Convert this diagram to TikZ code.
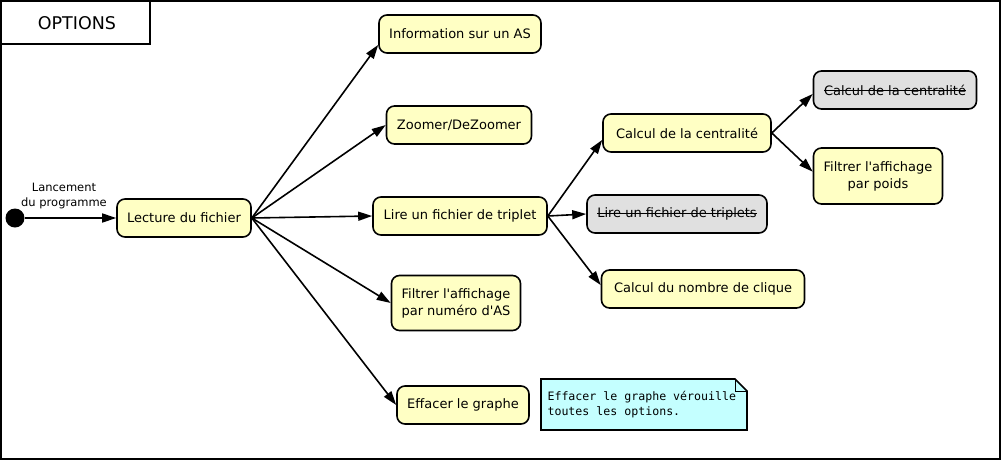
\documentclass[tikz,border=0pt]{standalone}
\usepackage{fontspec}
\setmainfont[Ligatures=TeXOff]{DejaVu Sans}
\newfontfamily\notefont{DejaVu Sans Mono}
\usetikzlibrary{arrows.meta,calc}
\newcommand\mystrike[1]{\setbox0\hbox{#1}\rlap{\rule[0.32em]{\wd0}{0.9pt}}\box0}
\definecolor{boxyellow}{HTML}{FFFFC4}
\definecolor{boxgray}{HTML}{E0E0E0}
\definecolor{notecyan}{HTML}{C4FFFF}
\tikzset{
  act/.style={draw=black, line width=1.6pt, rounded corners=8pt, fill=boxyellow,
    font=\fontsize{13}{17}\selectfont, align=center, minimum height=38pt, inner sep=2pt},
  actgray/.style={act, fill=boxgray},
  flow/.style={-{Triangle[length=14pt,width=9pt]}, line width=1.6pt},
}
\begin{document}
\begin{tikzpicture}[x=1pt,y=-1pt]
\useasboundingbox (0,0) rectangle (1003,461);
% frame
\draw[line width=1.8pt] (1,1) rectangle (1000,459);
\draw[line width=1.8pt, fill=white] (1,1) rectangle (150,44);
\node (title) at (77,23) {\fontsize{17.5}{20}\selectfont OPTIONS};
% initial
\node[circle, fill=black, minimum size=19pt, inner sep=0pt] (start) at (15,218) {};
\node[font=\fontsize{11.5}{15}\selectfont, align=center] (lbl) at (64,196) {Lancement\\du programme};
% nodes
\node[act, minimum width=134pt] (lec) at (184,218) {Lecture du fichier};
\node[act, minimum width=162pt] (info) at (460,34) {Information sur un AS};
\node[act, minimum width=145pt] (zoom) at (459,125) {Zoomer/DeZoomer};
\node[act, minimum width=174pt] (lire) at (460,216) {Lire un fichier de triplet};
\node[act, minimum width=129pt, minimum height=55pt] (filt) at (456,303) {Filtrer l'affichage\\par numéro d'AS};
\node[act, minimum width=132pt] (eff) at (463,405) {Effacer le graphe};
\node[act, minimum width=168pt] (cent) at (687,133) {Calcul de la centralité};
\node[actgray, minimum width=180pt] (lire2) at (677,214) {\mystrike{Lire un fichier de triplets}};
\node[act, minimum width=203pt] (cliq) at (703,289) {Calcul du nombre de clique};
\node[actgray, minimum width=163pt] (cent2) at (895,90) {\mystrike{Calcul de la centralité}};
\node[act, minimum width=129pt, minimum height=56pt] (poids) at (878,176) {Filtrer l'affichage\\par poids};
% note
\draw[line width=1.6pt, fill=notecyan] (541,379) -- (735,379) -- (747,391) -- (747,430) -- (541,430) -- cycle;
\draw[line width=0.8pt] (735,379) -- (735,391) -- (747,391);
\node[font=\notefont\fontsize{11.6}{15}\selectfont, align=left, anchor=west] (note) at (544,405) {Effacer le graphe vérouille\\toutes les options.};
% arrows
\draw[flow] (start) -- (lec.west);
\draw[flow] (lec.east) -- ($(info.west)!0.55!(info.south west)$);
\draw[flow] (lec.east) -- (zoom.west);
\draw[flow] (lec.east) -- (lire.west);
\draw[flow] (lec.east) -- (filt.west);
\draw[flow] (lec.east) -- (eff.west);
\draw[flow] (lire.east) -- ($(cent.west)!0.35!(cent.south west)$);
\draw[flow] (lire.east) -- (lire2.west);
\draw[flow] (lire.east) -- ($(cliq.west)!0.2!(cliq.north west)$);
\draw[flow] (cent.east) -- ($(cent2.west)!0.2!(cent2.south west)$);
\draw[flow] (cent.east) -- ($(poids.west)!0.15!(poids.north west)$);
\end{tikzpicture}
\end{document}
